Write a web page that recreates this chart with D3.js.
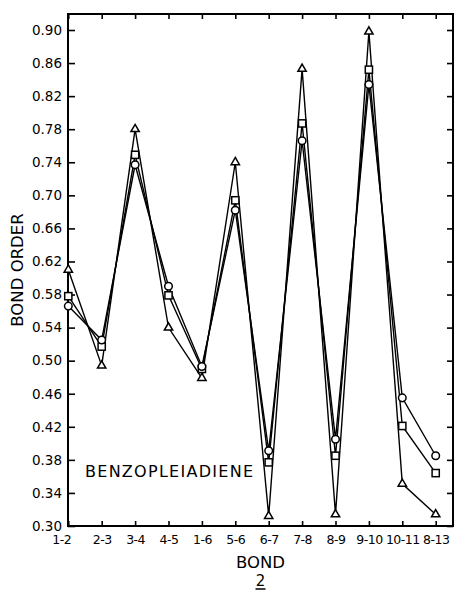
<!DOCTYPE html>
<html><head><meta charset="utf-8">
<script src="https://cdn.jsdelivr.net/npm/d3@7"></script>
<style>body{margin:0;background:#fff}svg{display:block}</style>
</head><body><svg id="c" width="457" height="593"></svg>
<script>
const bonds = ["1-2","2-3","3-4","4-5","1-6","5-6","6-7","7-8","8-9","9-10","10-11","8-13"];
const triangleSeries = [0.610, 0.494, 0.780, 0.540, 0.479, 0.740, 0.312, 0.853, 0.314, 0.898, 0.351, 0.314];
const circleSeries   = [0.566, 0.525, 0.737, 0.590, 0.493, 0.682, 0.391, 0.766, 0.405, 0.834, 0.455, 0.385];
const squareSeries   = [0.578, 0.517, 0.749, 0.579, 0.490, 0.694, 0.377, 0.787, 0.385, 0.852, 0.421, 0.364];
const yTicks = [0.30,0.34,0.38,0.42,0.46,0.50,0.54,0.58,0.62,0.66,0.70,0.74,0.78,0.82,0.86,0.90];
const yTitle = "BOND ORDER";
const xTitle = "BOND";
const compoundLabel = "BENZOPLEIADIENE";
const figureNumber = "2";

const font = "'DejaVu Sans', sans-serif";
const svg = d3.select("#c");
const L = 68, R = 453, T = 14, B = 526;
const x = d3.scalePoint().domain(bonds).range([68.3, 435.7]);
const y = d3.scaleLinear().domain([0.30, 0.90]).range([526, 30]);

// axes
const gl = svg.append("g").attr("transform", `translate(${L},0)`)
  .call(d3.axisLeft(y).tickValues(yTicks).tickSize(-7).tickPadding(6).tickFormat(d3.format(".2f")));
const gr = svg.append("g").attr("transform", `translate(${R},0)`)
  .call(d3.axisRight(y).tickValues(yTicks).tickSize(-6).tickFormat(""));
const gb = svg.append("g").attr("transform", `translate(0,${B})`)
  .call(d3.axisBottom(x).tickSize(-5).tickPadding(9));
const gt = svg.append("g").attr("transform", `translate(0,${T})`)
  .call(d3.axisTop(x).tickSize(-5).tickFormat(""));
[gl,gr,gb,gt].forEach(g => {
  g.select(".domain").remove();
  g.selectAll(".tick line").attr("stroke","#000").attr("stroke-width",1.6);
  g.selectAll("text").attr("fill","#000").attr("font-family",font);
});
gl.selectAll("text").attr("font-size",13.5);
gb.selectAll("text").attr("font-size",12.5).attr("letter-spacing",-0.5)
  .attr("dx", d => d === bonds[0] ? -7 : 0);

// frame
svg.append("rect").attr("x",L).attr("y",T).attr("width",R-L).attr("height",B-T)
  .attr("fill","none").attr("stroke","#000").attr("stroke-width",2);

// lines
const series = [
  {vals: triangleSeries, shape: "tri"},
  {vals: squareSeries, shape: "sq"},
  {vals: circleSeries, shape: "circ"}
];
const line = d3.line().x((d,i)=>x(bonds[i])).y(d=>y(d));
series.forEach(s => {
  svg.append("path").datum(s.vals).attr("d", line)
    .attr("fill","none").attr("stroke","#000").attr("stroke-width",1.4);
});
series.forEach(s => {
  const g = svg.append("g");
  s.vals.forEach((v,i) => {
    const cx = x(bonds[i]), cy = y(v);
    if (s.shape === "circ") {
      g.append("circle").attr("cx",cx).attr("cy",cy).attr("r",3.8)
        .attr("fill","#fff").attr("stroke","#000").attr("stroke-width",1.5);
    } else if (s.shape === "sq") {
      g.append("rect").attr("x",cx-3.6).attr("y",cy-3.6).attr("width",7.2).attr("height",7.2)
        .attr("fill","#fff").attr("stroke","#000").attr("stroke-width",1.5);
    } else {
      g.append("path").attr("transform",`translate(${cx},${cy})`)
        .attr("d", d3.symbol(d3.symbolTriangle, 30)())
        .attr("fill","#fff").attr("stroke","#000").attr("stroke-width",1.5);
    }
  });
});

// texts
svg.append("text").attr("x",85).attr("y",476.5).attr("font-family",font).attr("font-size",16)
  .attr("textLength",168).attr("fill","#000").text(compoundLabel);
svg.append("text").attr("transform",`translate(23,${(T+B)/2}) rotate(-90)`).attr("text-anchor","middle")
  .attr("font-family",font).attr("font-size",16.5).attr("fill","#000").text(yTitle);
svg.append("text").attr("x",(L+R)/2).attr("y",568).attr("text-anchor","middle")
  .attr("font-family",font).attr("font-size",16.5).attr("fill","#000").text(xTitle);
svg.append("text").attr("x",(L+R)/2).attr("y",586).attr("text-anchor","middle")
  .attr("font-family",font).attr("font-size",15).attr("fill","#000").text(figureNumber);
svg.append("line").attr("x1",(L+R)/2-5).attr("x2",(L+R)/2+5).attr("y1",589).attr("y2",589)
  .attr("stroke","#000").attr("stroke-width",1.5);
</script></body></html>
